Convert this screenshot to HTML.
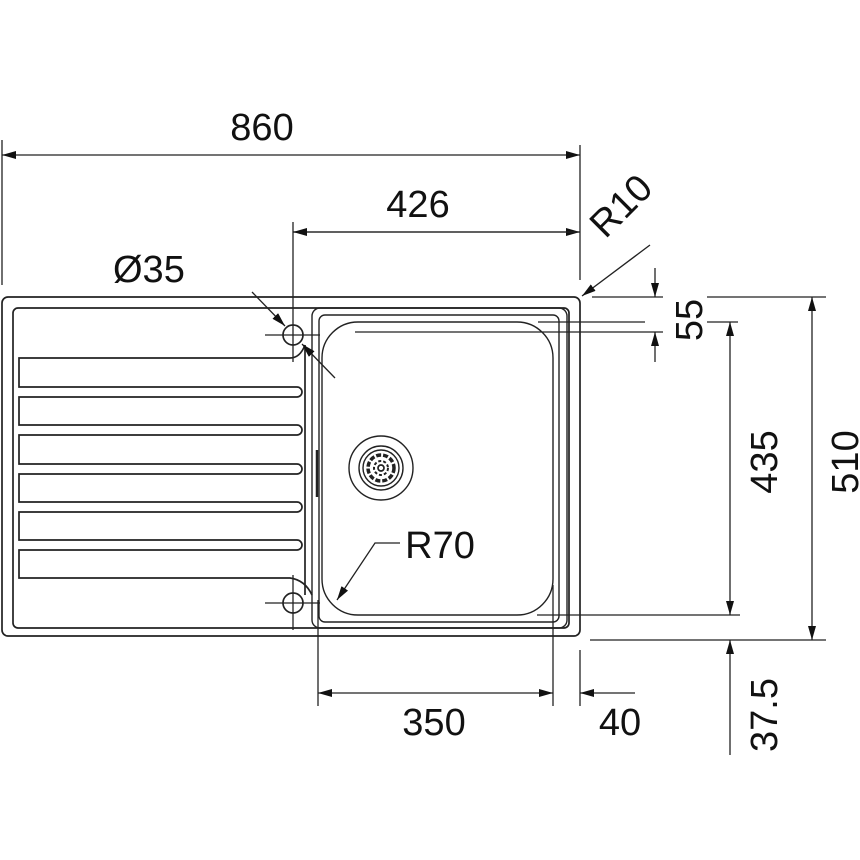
<!DOCTYPE html>
<html><head><meta charset="utf-8"><style>
html,body{margin:0;padding:0;background:#fff}
svg{display:block}
text{font-family:"Liberation Sans",sans-serif;font-size:38px;fill:#111}
</style></head><body>
<svg width="860" height="860" viewBox="0 0 860 860" xmlns="http://www.w3.org/2000/svg">
<defs>
<marker id="a" viewBox="0 0 14 8" refX="14" refY="4" markerWidth="14" markerHeight="8" markerUnits="userSpaceOnUse" orient="auto">
<path d="M0,0 L14,4 L0,8 Z" fill="#111"/></marker>
</defs>
<g fill="none" stroke="#222" stroke-width="1.7">
<rect x="2" y="297" width="578" height="339" rx="6"/>
<rect x="13" y="308" width="556" height="320" rx="5"/>
<rect x="312" y="308" width="255" height="320" rx="8" stroke-width="1.4"/>
<rect x="319" y="315" width="240" height="307" rx="6" stroke-width="1.4"/>
<rect x="322" y="322" width="231" height="293" rx="36" stroke-width="1.4"/>
<line x1="305" y1="345" x2="305" y2="595"/>
<line x1="317" y1="450" x2="317" y2="497" stroke-width="2.5"/>
<circle cx="381" cy="468" r="32" stroke-width="1.4"/>
<circle cx="381" cy="468" r="22" stroke-width="1.4"/>
<circle cx="381" cy="468" r="18" stroke-width="1.4"/>
<circle cx="381" cy="468" r="13" stroke-width="3.5" stroke-dasharray="5 2"/>
<circle cx="381" cy="468" r="7" stroke-width="2" stroke-dasharray="3 2"/>
<circle cx="381" cy="468" r="3"/>
<path d="M305,345 Q300,358 290,358 L19,358 L19,387 L297,387 A5,5 0 0 1 297,397 L19,397 L19,425 L297,425 A5,5 0 0 1 297,435 L19,435 L19,464 L297,464 A5,5 0 0 1 297,474 L19,474 L19,502 L297,502 A5,5 0 0 1 297,512 L19,512 L19,540 L297,540 A5,5 0 0 1 297,550 L19,550 L19,578 L290,578 Q305,580 312,595"/>
<circle cx="293" cy="335" r="10"/>
<circle cx="293" cy="603" r="10"/>
</g>
<g fill="none" stroke="#222" stroke-width="1.3">
<line x1="265" y1="335" x2="320" y2="335"/><line x1="293" y1="222" x2="293" y2="362"/>
<line x1="265" y1="603" x2="320" y2="603"/><line x1="293" y1="575" x2="293" y2="630"/>
<line x1="2" y1="140" x2="2" y2="285"/><line x1="580" y1="145" x2="580" y2="280"/>
<line x1="291" y1="155" x2="580" y2="155" marker-end="url(#a)"/>
<line x1="291" y1="155" x2="2" y2="155" marker-end="url(#a)"/>
<line x1="293" y1="232" x2="580" y2="232" marker-end="url(#a)"/>
<line x1="580" y1="232" x2="293" y2="232" marker-end="url(#a)"/>
<line x1="650" y1="245" x2="582" y2="296" marker-end="url(#a)"/>
<line x1="252" y1="292" x2="285" y2="326" marker-end="url(#a)"/>
<line x1="335" y1="378" x2="302" y2="344" marker-end="url(#a)"/>
<polyline points="400,543 375,543 337,600" marker-end="url(#a)"/>
<line x1="592" y1="297" x2="663" y2="297"/>
<line x1="355" y1="332" x2="663" y2="332"/>
<line x1="538" y1="322" x2="645" y2="322"/>
<line x1="655" y1="268" x2="655" y2="297" marker-end="url(#a)"/>
<line x1="655" y1="362" x2="655" y2="332" marker-end="url(#a)"/>
<line x1="707" y1="322" x2="738" y2="322"/>
<line x1="537" y1="615" x2="740" y2="615"/>
<line x1="730" y1="468" x2="730" y2="322" marker-end="url(#a)"/>
<line x1="730" y1="468" x2="730" y2="615" marker-end="url(#a)"/>
<line x1="707" y1="297" x2="826" y2="297"/>
<line x1="590" y1="640" x2="826" y2="640"/>
<line x1="812" y1="468" x2="812" y2="297" marker-end="url(#a)"/>
<line x1="812" y1="468" x2="812" y2="640" marker-end="url(#a)"/>
<line x1="730" y1="755" x2="730" y2="640" marker-end="url(#a)"/>
<line x1="318" y1="600" x2="318" y2="706"/>
<line x1="553" y1="585" x2="553" y2="706"/>
<line x1="580" y1="650" x2="580" y2="706"/>
<line x1="435" y1="693" x2="318" y2="693" marker-end="url(#a)"/>
<line x1="435" y1="693" x2="553" y2="693" marker-end="url(#a)"/>
<line x1="635" y1="693" x2="580" y2="693" marker-end="url(#a)"/>
</g>
<text x="262" y="140" text-anchor="middle">860</text>
<text x="418" y="217" text-anchor="middle">426</text>
<text x="113" y="282">Ø35</text>
<text x="440" y="558" text-anchor="middle">R70</text>
<text x="434" y="735" text-anchor="middle">350</text>
<text x="620" y="735" text-anchor="middle">40</text>
<text x="630" y="215" text-anchor="middle" transform="rotate(-45 630 215)">R10</text>
<text x="0" y="0" text-anchor="middle" transform="translate(702,320) rotate(-90)">55</text>
<text x="0" y="0" text-anchor="middle" transform="translate(777,462) rotate(-90)">435</text>
<text x="0" y="0" text-anchor="middle" transform="translate(858,462) rotate(-90)">510</text>
<text x="0" y="0" text-anchor="middle" transform="translate(777,715) rotate(-90)">37.5</text>
</svg>
</body></html>
